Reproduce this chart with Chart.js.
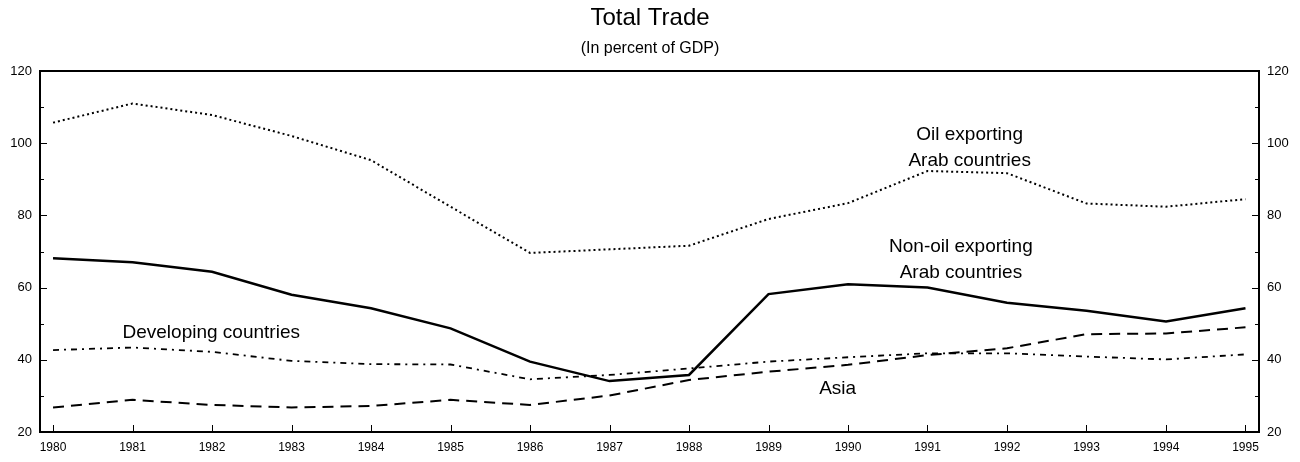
<!DOCTYPE html>
<html>
<head>
<meta charset="utf-8">
<script src="https://cdn.jsdelivr.net/npm/chart.js@4/dist/chart.umd.min.js"></script>
<style>
  html, body { margin: 0; padding: 0; background: #fff; }
</style>
</head>
<body>
<canvas id="myChart" width="1300" height="462"></canvas>
<script>
var years = [1980, 1981, 1982, 1983, 1984, 1985, 1986, 1987, 1988, 1989, 1990, 1991, 1992, 1993, 1994, 1995];
var oilExporting    = [105.7, 111.0, 107.8, 102.0, 95.3, 82.4, 69.6, 70.6, 71.6, 79.0, 83.4, 92.3, 91.7, 83.3, 82.4, 84.5];
var nonOilExporting = [68.1, 67.0, 64.4, 58.0, 54.3, 48.7, 39.5, 34.1, 35.8, 58.2, 60.9, 60.0, 55.8, 53.6, 50.6, 54.3];
var developing      = [42.7, 43.4, 42.2, 39.7, 38.8, 38.7, 34.6, 35.8, 37.6, 39.5, 40.7, 41.8, 41.8, 40.9, 40.1, 41.5];
var asia            = [26.8, 28.9, 27.5, 26.8, 27.2, 28.9, 27.5, 30.1, 34.4, 36.7, 38.6, 41.3, 43.2, 47.1, 47.3, 49.0];
var yMajorTicks = [20, 40, 60, 80, 100, 120];
var yMinorTicks = [30, 50, 70, 90, 110];

// text labels placed in data coordinates
var notes = [
  { lines: ['Oil exporting', 'Arab countries'], x: 1991.53, y: 102.3 },
  { lines: ['Non-oil exporting', 'Arab countries'], x: 1991.42, y: 71.25 },
  { lines: ['Developing countries'], x: 1981.99, y: 47.4 },
  { lines: ['Asia'], x: 1989.87, y: 31.9 }
];

function pts(arr) {
  return years.map((yr, i) => ({ x: yr, y: arr[i] }));
}

Chart.defaults.font.family = "'Liberation Sans', Arial, sans-serif";
Chart.defaults.color = '#000';

var framePlugin = {
  id: 'frame',
  afterDatasetsDraw(chart) {
    var a = chart.chartArea, ctx = chart.ctx;
    var xs = chart.scales.x, yl = chart.scales.y;
    ctx.save();
    ctx.strokeStyle = '#000';
    ctx.lineWidth = 2;
    ctx.strokeRect(a.left, a.top, a.right - a.left, a.bottom - a.top);
    // inward tick marks
    ctx.lineWidth = 1;
    ctx.beginPath();
    yMajorTicks.forEach(v => {
      var p = Math.round(yl.getPixelForValue(v)) + 0.5;
      ctx.moveTo(a.left, p); ctx.lineTo(a.left + 7, p);
      ctx.moveTo(a.right, p); ctx.lineTo(a.right - 7, p);
    });
    yMinorTicks.forEach(v => {
      var p = Math.round(yl.getPixelForValue(v)) + 0.5;
      ctx.moveTo(a.left, p); ctx.lineTo(a.left + 4, p);
      ctx.moveTo(a.right, p); ctx.lineTo(a.right - 4, p);
    });
    years.forEach(v => {
      var p = Math.round(xs.getPixelForValue(v)) + 0.5;
      ctx.moveTo(p, a.bottom); ctx.lineTo(p, a.bottom - 7);
    });
    ctx.stroke();

    // series labels
    ctx.fillStyle = '#000';
    ctx.font = "19px 'Liberation Sans', Arial, sans-serif";
    ctx.textAlign = 'center';
    ctx.textBaseline = 'middle';
    notes.forEach(n => {
      var px = xs.getPixelForValue(n.x), py = yl.getPixelForValue(n.y);
      n.lines.forEach((t, i) => ctx.fillText(t, px, py + i * 26));
    });
    ctx.restore();
  }
};

var ctx = document.getElementById('myChart').getContext('2d');
var chart = new Chart(ctx, {
  type: 'line',
  data: {
    datasets: [{
      label: 'Oil exporting Arab countries',
      data: pts(oilExporting),
      borderColor: '#000',
      borderWidth: 2,
      borderDash: [2, 3],
      yAxisID: 'y'
    }, {
      label: 'Non-oil exporting Arab countries',
      data: pts(nonOilExporting),
      borderColor: '#000',
      borderWidth: 2.5,
      yAxisID: 'y'
    }, {
      label: 'Developing countries',
      data: pts(developing),
      borderColor: '#000',
      borderWidth: 1.8,
      borderDash: [6, 5, 2, 5],
      yAxisID: 'y'
    }, {
      label: 'Asia',
      data: pts(asia),
      borderColor: '#000',
      borderWidth: 2,
      borderDash: [11, 7],
      yAxisID: 'y'
    }]
  },
  options: {
    responsive: false,
    animation: false,
    devicePixelRatio: 1,
    elements: { point: { radius: 0 }, line: { tension: 0, fill: false } },
    layout: { padding: 0 },
    plugins: {
      legend: { display: false },
      tooltip: { enabled: false },
      title: {
        display: true,
        text: 'Total Trade',
        font: { size: 24, weight: 'normal' },
        color: '#000',
        padding: { top: 4, bottom: 6 }
      },
      subtitle: {
        display: true,
        text: '(In percent of GDP)',
        font: { size: 16 },
        color: '#000',
        padding: { top: 0, bottom: 13 }
      }
    },
    scales: {
      x: {
        type: 'linear',
        min: 1979.836,
        max: 1995.17,
        afterBuildTicks: s => { s.ticks = years.map(v => ({ value: v })); },
        ticks: { callback: v => String(v), font: { size: 12 }, color: '#000', padding: 0, maxRotation: 0, autoSkip: false },
        grid: { display: false },
        border: { display: false },
        afterFit: s => { s.height = 30; }
      },
      y: {
        position: 'left',
        min: 20,
        max: 120,
        ticks: { stepSize: 20, font: { size: 13 }, color: '#000', padding: 0 },
        grid: { display: false },
        border: { display: false },
        afterFit: s => { s.width = 40; }
      },
      y2: {
        position: 'right',
        min: 20,
        max: 120,
        ticks: { stepSize: 20, font: { size: 13 }, color: '#000', padding: 0 },
        grid: { display: false },
        border: { display: false },
        afterFit: s => { s.width = 41; }
      }
    }
  },
  plugins: [framePlugin]
});
</script>
</body>
</html>
